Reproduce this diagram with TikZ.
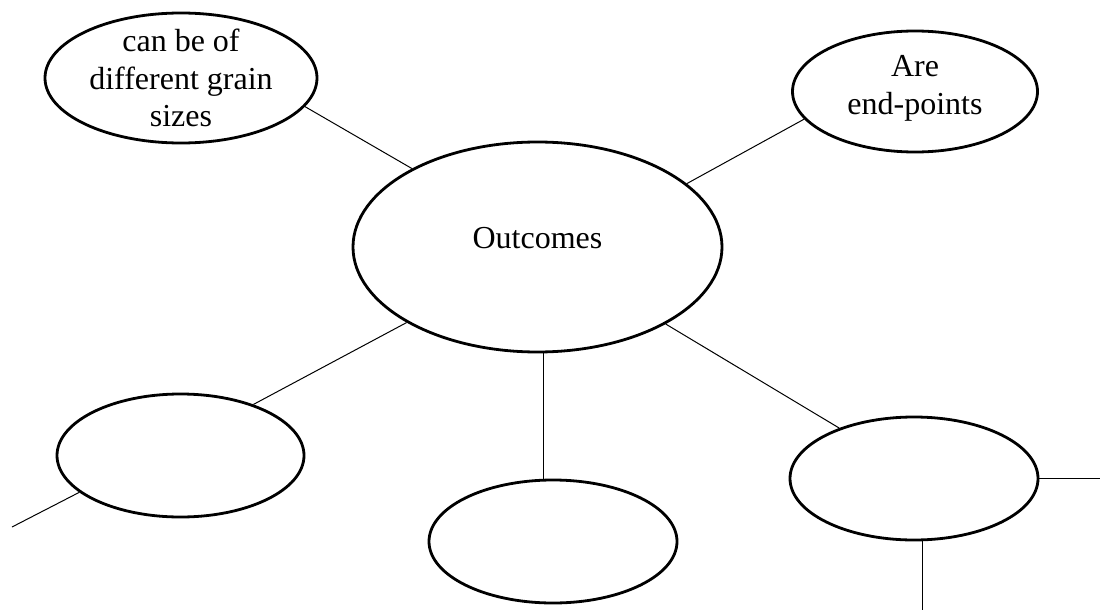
\documentclass[tikz,border=0pt]{standalone}
\usepackage{fontspec}
\setmainfont{Liberation Serif}
\usetikzlibrary{shapes.geometric}
\begin{document}
\begin{tikzpicture}[x=1pt,y=-1pt,
  bubble/.style={ellipse, draw, line width=2.8pt, inner sep=-30pt, align=center,
    font=\fontsize{32}{37.5}\selectfont},
  small/.style={bubble, minimum width=248pt, minimum height=123pt},
  link/.style={line width=1pt}]
\useasboundingbox (0,0) rectangle (1100,610);
\node[bubble, minimum width=272pt, minimum height=130pt] (grain) at (181,78) {can be of\\different grain\\sizes};
\node[small, minimum width=245pt, minimum height=121pt, text depth=13pt] (ends) at (915,91.5) {Are\\end-points};
\node[bubble, minimum width=369pt, minimum height=210pt, text depth=18pt] (out) at (537.5,247) {Outcomes};
\node[small, minimum width=247pt] (bl) at (180.5,455.5) {};
\node[small] (bm) at (553,541.5) {};
\node[small] (br) at (914,478.5) {};
\coordinate (blfree) at (12,527);
\coordinate (brright) at (1100,480);
\coordinate (brdown) at (922,610);
\draw[link] (grain.-13.4) -- (out.148.9);
\draw[link] (out.23.8) -- (ends.194.5);
\draw[link] (out.210.7) -- (bl.35.9);
\draw[link] (bl.200.5) -- (blfree);
\draw[link] (out.-87.5) -- (out.-87.5 |- bm.north);
\draw[link] (out.-31.5) -- (br.146.4);
\draw[link] (br.east) -- (br.east -| brright);
\draw[link] (br.-82.6) -- (br.-82.6 |- brdown);
\end{tikzpicture}
\end{document}
